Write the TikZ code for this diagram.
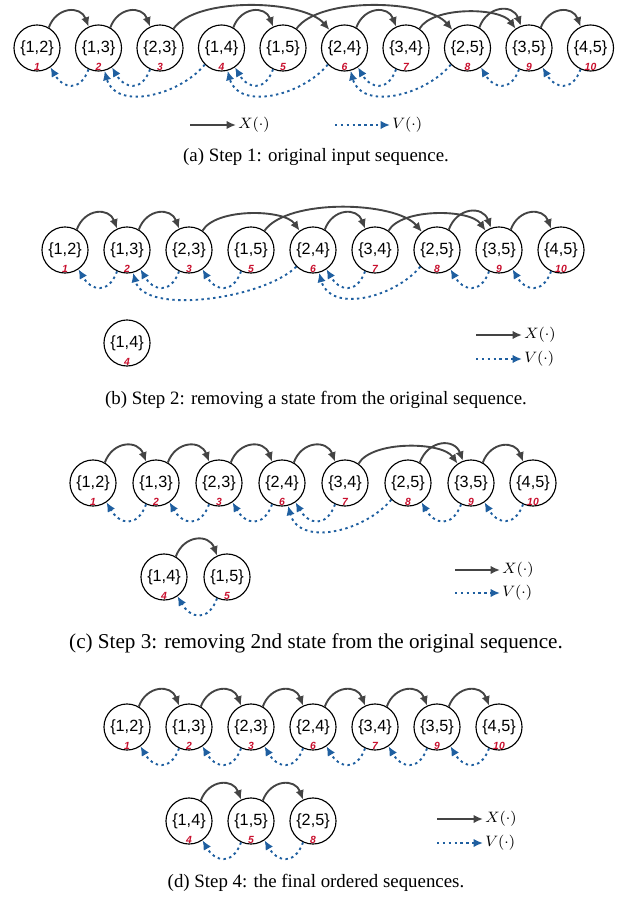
\documentclass[tikz,border=0pt]{standalone}
\usepackage{fontspec}
\setmainfont{Liberation Serif}
\setsansfont{Liberation Sans}
\usepackage{amsmath}
\usetikzlibrary{arrows.meta}
\definecolor{xgray}{HTML}{444444}
\definecolor{vblue}{HTML}{1F5FA0}
\definecolor{idxred}{HTML}{C8102E}
\tikzset{
  state/.style={circle,draw=black,line width=0.6pt,minimum size=24.4pt,inner sep=0pt,
    font=\sffamily\fontsize{8.6}{8.6}\selectfont},
  idx/.style={font=\sffamily\bfseries\itshape\fontsize{5.5}{5.5}\selectfont,text=idxred,
    inner sep=0.4pt,anchor=south},
  xarr/.style={draw=xgray,line width=1pt,-{Latex[length=5pt,width=4.5pt]}},
  varr/.style={draw=vblue,line width=1pt,dash pattern=on 1.3pt off 1.8pt,
    -{Latex[length=5pt,width=4.5pt]}},
  hop/.style={out=70,in=110,looseness=1.45},
  hopp/.style={out=60,in=125,looseness=0.7},
  hoppp/.style={out=55,in=130,looseness=0.65},
  back/.style={out=-110,in=-60,looseness=1.65},
  backk/.style={out=-130,in=-75,looseness=1.05},
  backkk/.style={out=-135,in=-75,looseness=0.7},
  capt/.style={font=\fontsize{10}{12}\selectfont},
  leg/.style={anchor=west,inner sep=1pt,font=\footnotesize},
}
% state circle with its red index
\newcommand{\stnode}[4]{\node[state] (#1) at (#2) {\{#3\}}; \node[idx] (#1i) at (#1.south) {#4};}

\begin{document}
\begin{tikzpicture}[x=0.53pt,y=0.53pt]
  \useasboundingbox (0,0) rectangle (633,-901);
  % (a) original sequence
  \stnode{a1}{37,-48}{1,2}{1}
  \stnode{a2}{98.5,-48}{1,3}{2}
  \stnode{a3}{160,-48}{2,3}{3}
  \stnode{a4}{221.5,-48}{1,4}{4}
  \stnode{a5}{283,-48}{1,5}{5}
  \stnode{a6}{344.5,-48}{2,4}{6}
  \stnode{a7}{406,-48}{3,4}{7}
  \stnode{a8}{467.5,-48}{2,5}{8}
  \stnode{a9}{529,-48}{3,5}{9}
  \stnode{a10}{590.5,-48}{4,5}{10}
  \draw[xarr] (a1.60) to[hop] (a2.115);
  \draw[xarr] (a2.60) to[hop] (a3.115);
  \draw[xarr] (a3.55) to[hoppp] (a6.130);
  \draw[xarr] (a4.60) to[hop] (a5.115);
  \draw[xarr] (a5.55) to[hoppp] (a8.130);
  \draw[xarr] (a6.60) to[hop] (a7.115);
  \draw[xarr] (a7.55) to[hopp] (a9.125);
  \draw[xarr] (a8.60) to[hop] (a9.110);
  \draw[xarr] (a9.60) to[hop] (a10.115);
  \draw[varr] (a2.245) to[back] (a1.-55);
  \draw[varr] (a3.245) to[back] (a2.-55);
  \draw[varr] (a4.225) to[backk] (a2.-75);
  \draw[varr] (a5.245) to[back] (a4.-55);
  \draw[varr] (a6.225) to[backk] (a4.-75);
  \draw[varr] (a7.245) to[back] (a6.-55);
  \draw[varr] (a8.225) to[backk] (a6.-75);
  \draw[varr] (a9.245) to[back] (a8.-55);
  \draw[varr] (a10.245) to[back] (a9.-55);
  \coordinate (lxa0) at (190,-125);
  \node[leg] (lxa) at (236,-125) {$X(\cdot)$};
  \draw[xarr] (lxa0) -- (lxa.west);
  \coordinate (lva0) at (335,-125);
  \node[leg] (lva) at (390,-125) {$V(\cdot)$};
  \draw[varr] (lva0) -- (lva.west);
  \node[capt] (capa) at (316,-157) {(a) Step 1: original input sequence.};

  % (b) first state taken out
  \stnode{b1}{65,-250}{1,2}{1}
  \stnode{b2}{127,-250}{1,3}{2}
  \stnode{b3}{189,-250}{2,3}{3}
  \stnode{b5}{251,-250}{1,5}{5}
  \stnode{b6}{313,-250}{2,4}{6}
  \stnode{b7}{375,-250}{3,4}{7}
  \stnode{b8}{437,-250}{2,5}{8}
  \stnode{b9}{499,-250}{3,5}{9}
  \stnode{b10}{561,-250}{4,5}{10}
  \stnode{b4}{127,-343}{1,4}{4}
  \draw[xarr] (b1.60) to[hop] (b2.115);
  \draw[xarr] (b2.60) to[hop] (b3.115);
  \draw[xarr] (b3.55) to[hopp] (b6.125);
  \draw[xarr] (b5.55) to[hoppp] (b8.130);
  \draw[xarr] (b6.60) to[hop] (b7.115);
  \draw[xarr] (b7.55) to[hopp] (b9.125);
  \draw[xarr] (b8.60) to[hop] (b9.110);
  \draw[xarr] (b9.60) to[hop] (b10.115);
  \draw[varr] (b2.245) to[back] (b1.-55);
  \draw[varr] (b3.245) to[back] (b2.-55);
  \draw[varr] (b5.245) to[back] (b3.-55);
  \draw[varr] (b6.225) to[backkk] (b2.-75);
  \draw[varr] (b7.245) to[back] (b6.-55);
  \draw[varr] (b8.225) to[backk] (b6.-75);
  \draw[varr] (b9.245) to[back] (b8.-55);
  \draw[varr] (b10.245) to[back] (b9.-55);
  \coordinate (lxb0) at (476,-335);
  \node[leg] (lxb) at (522,-335) {$X(\cdot)$};
  \draw[xarr] (lxb0) -- (lxb.west);
  \coordinate (lvb0) at (476,-359);
  \node[leg] (lvb) at (522,-359) {$V(\cdot)$};
  \draw[varr] (lvb0) -- (lvb.west);
  \node[capt] (capb) at (316,-400) {(b) Step 2: removing a state from the original sequence.};

  % (c) second state taken out
  \stnode{c1}{93,-483}{1,2}{1}
  \stnode{c2}{156,-483}{1,3}{2}
  \stnode{c3}{219,-483}{2,3}{3}
  \stnode{c6}{282,-483}{2,4}{6}
  \stnode{c7}{345,-483}{3,4}{7}
  \stnode{c8}{408,-483}{2,5}{8}
  \stnode{c9}{471,-483}{3,5}{9}
  \stnode{c10}{533,-483}{4,5}{10}
  \stnode{c4}{164,-577}{1,4}{4}
  \stnode{c5}{227,-577}{1,5}{5}
  \draw[xarr] (c1.60) to[hop] (c2.115);
  \draw[xarr] (c2.60) to[hop] (c3.115);
  \draw[xarr] (c3.60) to[hop] (c6.115);
  \draw[xarr] (c6.60) to[hop] (c7.115);
  \draw[xarr] (c7.55) to[hopp] (c9.125);
  \draw[xarr] (c8.60) to[hop] (c9.110);
  \draw[xarr] (c9.60) to[hop] (c10.115);
  \draw[xarr] (c4.60) to[hop] (c5.115);
  \draw[varr] (c2.245) to[back] (c1.-55);
  \draw[varr] (c3.245) to[back] (c2.-55);
  \draw[varr] (c6.245) to[back] (c3.-55);
  \draw[varr] (c7.245) to[back] (c6.-55);
  \draw[varr] (c8.225) to[backk] (c6.-75);
  \draw[varr] (c9.245) to[back] (c8.-55);
  \draw[varr] (c10.245) to[back] (c9.-55);
  \draw[varr] (c5.245) to[back] (c4.-55);
  \coordinate (lxc0) at (455,-570);
  \node[leg] (lxc) at (500,-570) {$X(\cdot)$};
  \draw[xarr] (lxc0) -- (lxc.west);
  \coordinate (lvc0) at (455,-593);
  \node[leg] (lvc) at (500,-593) {$V(\cdot)$};
  \draw[varr] (lvc0) -- (lvc.west);
  \node[capt,font=\fontsize{11.2}{13}\selectfont] (capc) at (316,-643) {(c) Step 3: removing 2nd state from the original sequence.};

  % (d) final sequences
  \stnode{d1}{127,-727}{1,2}{1}
  \stnode{d2}{189,-727}{1,3}{2}
  \stnode{d3}{251,-727}{2,3}{3}
  \stnode{d6}{313,-727}{2,4}{6}
  \stnode{d7}{375,-727}{3,4}{7}
  \stnode{d9}{437,-727}{3,5}{9}
  \stnode{d10}{499,-727}{4,5}{10}
  \stnode{d4}{189,-821}{1,4}{4}
  \stnode{d5}{251,-821}{1,5}{5}
  \stnode{d8}{313,-821}{2,5}{8}
  \draw[xarr] (d1.60) to[hop] (d2.115);
  \draw[xarr] (d2.60) to[hop] (d3.115);
  \draw[xarr] (d3.60) to[hop] (d6.115);
  \draw[xarr] (d6.60) to[hop] (d7.115);
  \draw[xarr] (d7.60) to[hop] (d9.115);
  \draw[xarr] (d9.60) to[hop] (d10.115);
  \draw[xarr] (d4.60) to[hop] (d5.115);
  \draw[xarr] (d5.60) to[hop] (d8.115);
  \draw[varr] (d2.245) to[back] (d1.-55);
  \draw[varr] (d3.245) to[back] (d2.-55);
  \draw[varr] (d6.245) to[back] (d3.-55);
  \draw[varr] (d7.245) to[back] (d6.-55);
  \draw[varr] (d9.245) to[back] (d7.-55);
  \draw[varr] (d10.245) to[back] (d9.-55);
  \draw[varr] (d5.245) to[back] (d4.-55);
  \draw[varr] (d8.245) to[back] (d5.-55);
  \coordinate (lxd0) at (437,-819);
  \node[leg] (lxd) at (483,-819) {$X(\cdot)$};
  \draw[xarr] (lxd0) -- (lxd.west);
  \coordinate (lvd0) at (437,-843);
  \node[leg] (lvd) at (483,-843) {$V(\cdot)$};
  \draw[varr] (lvd0) -- (lvd.west);
  \node[capt] (capd) at (316,-883) {(d) Step 4: the final ordered sequences.};
\end{tikzpicture}
\end{document}
